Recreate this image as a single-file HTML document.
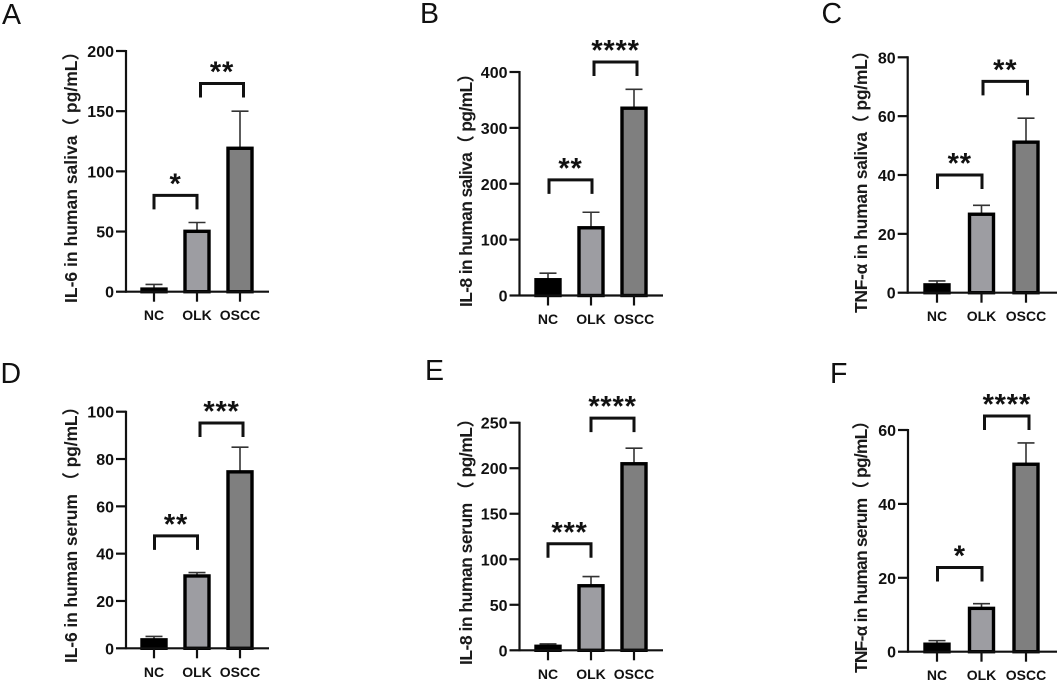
<!DOCTYPE html>
<html lang="en">
<head>
<meta charset="utf-8">
<title>Cytokine levels in saliva and serum</title>
<style>
html,body{margin:0;padding:0;background:#fff;}
#figure{display:block;width:1059px;height:680px;background:#fff;filter:blur(0.35px);font-family:"Liberation Sans","Noto Sans CJK SC",sans-serif;}
.letter{font-size:28.5px;fill:#111;}
.ytitle{font-size:17.5px;font-weight:bold;fill:#1a1a1a;}
.tick{font-size:16px;font-weight:bold;fill:#111;text-anchor:end;}
.cat{font-size:14px;font-weight:bold;fill:#111;text-anchor:middle;}
.star{font-size:29px;font-weight:bold;fill:#111;text-anchor:middle;letter-spacing:0.8px;}
</style>
</head>
<body>
<svg id="figure" xmlns="http://www.w3.org/2000/svg" width="1059" height="680" viewBox="0 0 1059 680">
  <text class="letter" x="2" y="24">A</text>
  <text class="letter" x="420" y="23">B</text>
  <text class="letter" x="821.5" y="23">C</text>
  <text class="letter" x="0.5" y="383">D</text>
  <text class="letter" x="425" y="380">E</text>
  <text class="letter" x="830" y="383">F</text>

  <text class="ytitle" transform="translate(77,303) rotate(-90)" textLength="260" lengthAdjust="spacing">IL-6 in human saliva（ pg/mL）</text>
  <text class="ytitle" transform="translate(472,307) rotate(-90)" textLength="242" lengthAdjust="spacing">IL-8 in human saliva（ pg/mL）</text>
  <text class="ytitle" transform="translate(867,313) rotate(-90)" textLength="271" lengthAdjust="spacing">TNF-α in human saliva（ pg/mL）</text>
  <text class="ytitle" transform="translate(77,663) rotate(-90)" textLength="265" lengthAdjust="spacing">IL-6 in human serum （ pg/mL）</text>
  <text class="ytitle" transform="translate(472,665) rotate(-90)" textLength="255" lengthAdjust="spacing">IL-8 in human serum （ pg/mL）</text>
  <text class="ytitle" transform="translate(867,673) rotate(-90)" textLength="261" lengthAdjust="spacing">TNF-α in human serum（ pg/mL）</text>
</svg>
<script>
// Shared category data
const categories = ['NC', 'OLK', 'OSCC'];

// Bar means, per panel
const valuesA = [3, 51, 120];
const valuesB = [30, 123, 337];
const valuesC = [3, 27, 51.5];
const valuesD = [4, 31, 75];
const valuesE = [5.5, 72, 206];
const valuesF = [2.3, 12, 51];

// Upper error-bar values, per panel
const errorTopsA = [6, 57.5, 150];
const errorTopsB = [40, 149, 369];
const errorTopsC = [4, 29.7, 59.3];
const errorTopsD = [5, 32, 85];
const errorTopsE = [7, 81, 222];
const errorTopsF = [3, 13, 56.5];

// Y-axis tick labels, per panel
const ticksA = [0, 50, 100, 150, 200];
const ticksB = [0, 100, 200, 300, 400];
const ticksC = [0, 20, 40, 60, 80];
const ticksD = [0, 20, 40, 60, 80, 100];
const ticksE = [0, 50, 100, 150, 200, 250];
const ticksF = [0, 20, 40, 60];

// Significance bracket heights (axis units) and labels, per panel
const bracketsA = [80, 173];
const bracketsB = [207, 418];
const bracketsC = [40, 71.8];
const bracketsD = [47.5, 95.2];
const bracketsE = [117, 255];
const bracketsF = [22.8, 63.8];
const starsA = ['*', '**'];
const starsB = ['**', '****'];
const starsC = ['**', '**'];
const starsD = ['**', '***'];
const starsE = ['***', '****'];
const starsF = ['*', '****'];

// Panel frames (layout only)
const panels = [
  {id:'a', values:valuesA, errors:errorTopsA, ticks:ticksA, brackets:bracketsA, stars:starsA, axisX:126, right:269, y0:291.7, yTop:51, x0:154, step:43, shift:[0,3.5]},
  {id:'b', values:valuesB, errors:errorTopsB, ticks:ticksB, brackets:bracketsB, stars:starsB, axisX:519.5, right:663, y0:295.5, yTop:72, x0:548, step:43, shift:[1,3]},
  {id:'c', values:valuesC, errors:errorTopsC, ticks:ticksC, brackets:bracketsC, stars:starsC, axisX:907.7, right:1057, y0:292.7, yTop:57.3, x0:937, step:44.5, shift:[0.5,1.5]},
  {id:'d', values:valuesD, errors:errorTopsD, ticks:ticksD, brackets:bracketsD, stars:starsD, axisX:126, right:269, y0:648.3, yTop:411.7, x0:154, step:43, shift:[0.5,3]},
  {id:'e', values:valuesE, errors:errorTopsE, ticks:ticksE, brackets:bracketsE, stars:starsE, axisX:519.5, right:663, y0:650.3, yTop:422.7, x0:548, step:43, shift:[0,0]},
  {id:'f', values:valuesF, errors:errorTopsF, ticks:ticksF, brackets:bracketsF, stars:starsF, axisX:908, right:1057, y0:651.7, yTop:430, x0:937, step:44.5, shift:[0.5,3]}
];
const fills = ['#000000', '#9d9da2', '#7f7f7f'];
const SVGNS = 'http://www.w3.org/2000/svg';
const fig = document.getElementById('figure');

function make(tag, attrs, parent) {
  const n = document.createElementNS(SVGNS, tag);
  for (const k in attrs) n.setAttribute(k, attrs[k]);
  parent.appendChild(n);
  return n;
}

panels.forEach(function (p) {
  const maxTick = p.ticks[p.ticks.length - 1];
  const yScale = function (v) { return p.y0 - (v / maxTick) * (p.y0 - p.yTop); };
  const xScale = function (i) { return p.x0 + i * p.step; };

  const g = make('g', {}, fig);
  
  

  // Bars and error bars
  categories.forEach(function (c, i) {
    const cx = xScale(i);
    const whisker = make('line', {x1:cx, x2:cx, y1:yScale(p.values[i]), y2:yScale(p.errors[i]), stroke:'#333', 'stroke-width':1.6}, g);
    
    
    const cap = make('line', {x1:cx - 8.5, x2:cx + 8.5, y1:yScale(p.errors[i]), y2:yScale(p.errors[i]), stroke:'#333', 'stroke-width':1.6}, g);
    
    
    const top = Math.min(yScale(p.values[i]) + 1, p.y0);
    const bar = make('rect', {x:cx - 12, y:top, width:24, height:p.y0 - top, fill:fills[i], stroke:'#000', 'stroke-width':3.4}, g);
    
    
  });

  // Y axis
  const yAxis = make('line', {x1:p.axisX, x2:p.axisX, y1:p.yTop - 1, y2:p.y0 + 1, stroke:'#111', 'stroke-width':2.2}, g);
  
  
  p.ticks.forEach(function (t) {
    const y = yScale(t);
    const mark = make('line', {x1:p.axisX - 10, x2:p.axisX, y1:y, y2:y, stroke:'#111', 'stroke-width':2.2}, g);
    
    
    const label = make('text', {class:'tick', x:p.axisX - 12, y:y + 6}, g);
    label.textContent = t;
    
    
  });

  // X axis
  const xAxis = make('line', {x1:p.axisX, x2:p.right, y1:p.y0, y2:p.y0, stroke:'#111', 'stroke-width':2.2}, g);
  
  
  categories.forEach(function (c, i) {
    const cx = xScale(i);
    const mark = make('line', {x1:cx, x2:cx, y1:p.y0, y2:p.y0 + 10, stroke:'#111', 'stroke-width':2.2}, g);
    
    
    const label = make('text', {class:'cat', x:cx, y:p.y0 + 28.5}, g);
    label.textContent = c;
    
    
  });

  // Significance brackets
  p.brackets.forEach(function (h, i) {
    const x1 = xScale(i) + p.shift[i];
    const x2 = xScale(i + 1) + p.shift[i];
    const y = yScale(h);
    const path = make('path', {d:'M' + x1 + ' ' + (y + 14) + 'V' + y + 'H' + x2 + 'V' + (y + 14), fill:'none', stroke:'#111', 'stroke-width':3}, g);
    
    
    const star = make('text', {class:'star', x:(x1 + x2) / 2, y:y - 2}, g);
    star.textContent = p.stars[i];
    
    
  });
});
</script>
</body>
</html>
